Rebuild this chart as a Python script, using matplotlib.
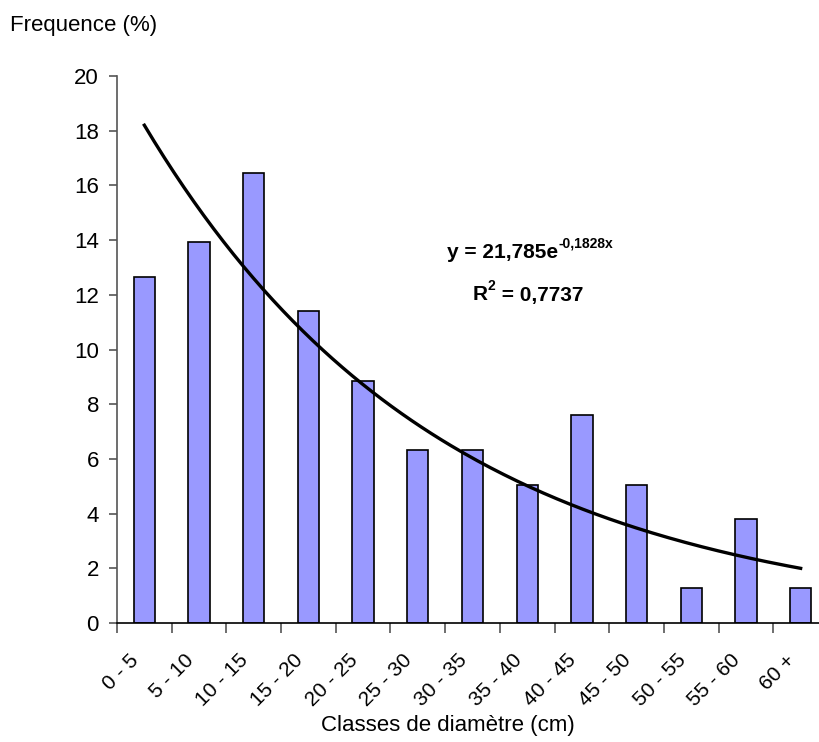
import matplotlib.pyplot as plt
import numpy as np

plt.rcParams['font.family'] = ['Liberation Sans', 'DejaVu Sans']

# Données
classes = ["0 - 5", "5 - 10", "10 - 15", "15 - 20", "20 - 25", "25 - 30", "30 - 35",
           "35 - 40", "40 - 45", "45 - 50", "50 - 55", "55 - 60", "60 +"]
frequence = [12.66, 13.92, 16.46, 11.39, 8.86, 6.33, 6.33, 5.06, 7.59, 5.06, 1.27, 3.80, 1.27]

x = np.arange(1, len(classes) + 1)
y = np.array(frequence)

fig = plt.figure(figsize=(8.2, 7.42), dpi=100)
ax = fig.add_axes([117 / 820, 1 - 623 / 742, 711 / 820, 547 / 742])

ax.bar(x, y, width=0.39, color="#9999FF", edgecolor="black", linewidth=1.2, zorder=2)

# Courbe de tendance exponentielle
coef = np.polyfit(x, np.log(y), 1)
xs = np.linspace(1, len(classes), 200)
ax.plot(xs, np.exp(coef[1]) * np.exp(coef[0] * xs), color="black", linewidth=2.4, zorder=3)

ax.set_xlim(0.5, len(classes) + 0.5)
ax.set_ylim(0, 20)
ax.set_yticks(np.arange(0, 21, 2))
ax.set_xticks(np.arange(0.5, len(classes) + 0.5, 1))
ax.set_xticklabels([])
ax.set_xticks(x - 0.28, minor=True)
ax.set_xticklabels(classes, minor=True, rotation=45, ha="right", rotation_mode="anchor")
ax.tick_params(axis="x", which="minor", length=0, labelsize=15, pad=20)
ax.tick_params(axis="x", which="major", length=7, color="#555555", width=1.2)
ax.tick_params(axis="y", length=6, color="#555555", width=1.2, labelsize=16, pad=7)

for s in ["top", "right"]:
    ax.spines[s].set_visible(False)
ax.spines["left"].set_color("#555555")
ax.spines["left"].set_linewidth(1.2)
ax.spines["bottom"].set_color("black")
ax.spines["bottom"].set_linewidth(1.2)

fig.text(448 / 820, 1 - 726 / 742, "Classes de diamètre (cm)", ha="center", va="center", fontsize=16)
fig.text(10 / 820, 1 - 25 / 742, "Frequence (%)", ha="left", va="center", fontsize=16)

# Équation de la tendance
fig.canvas.draw()
r = fig.canvas.get_renderer()
t1 = fig.text(447 / 820, 1 - 253 / 742, "y = 21,785e", ha="left", va="center",
              fontsize=15, fontweight="bold")
b1 = t1.get_window_extent(r)
fig.text(b1.x1 / 820, 1 - 243 / 742, "-0,1828x", ha="left", va="center",
         fontsize=10, fontweight="bold")
t2 = fig.text(473 / 820, 1 - 295 / 742, "R", ha="left", va="center",
              fontsize=15, fontweight="bold")
b2 = t2.get_window_extent(r)
t3 = fig.text(b2.x1 / 820, 1 - 286 / 742, "2", ha="left", va="center",
              fontsize=10, fontweight="bold")
b3 = t3.get_window_extent(r)
fig.text(b3.x1 / 820, 1 - 295 / 742, " = 0,7737", ha="left", va="center",
         fontsize=15, fontweight="bold")

fig.savefig("out.png", dpi=100)
